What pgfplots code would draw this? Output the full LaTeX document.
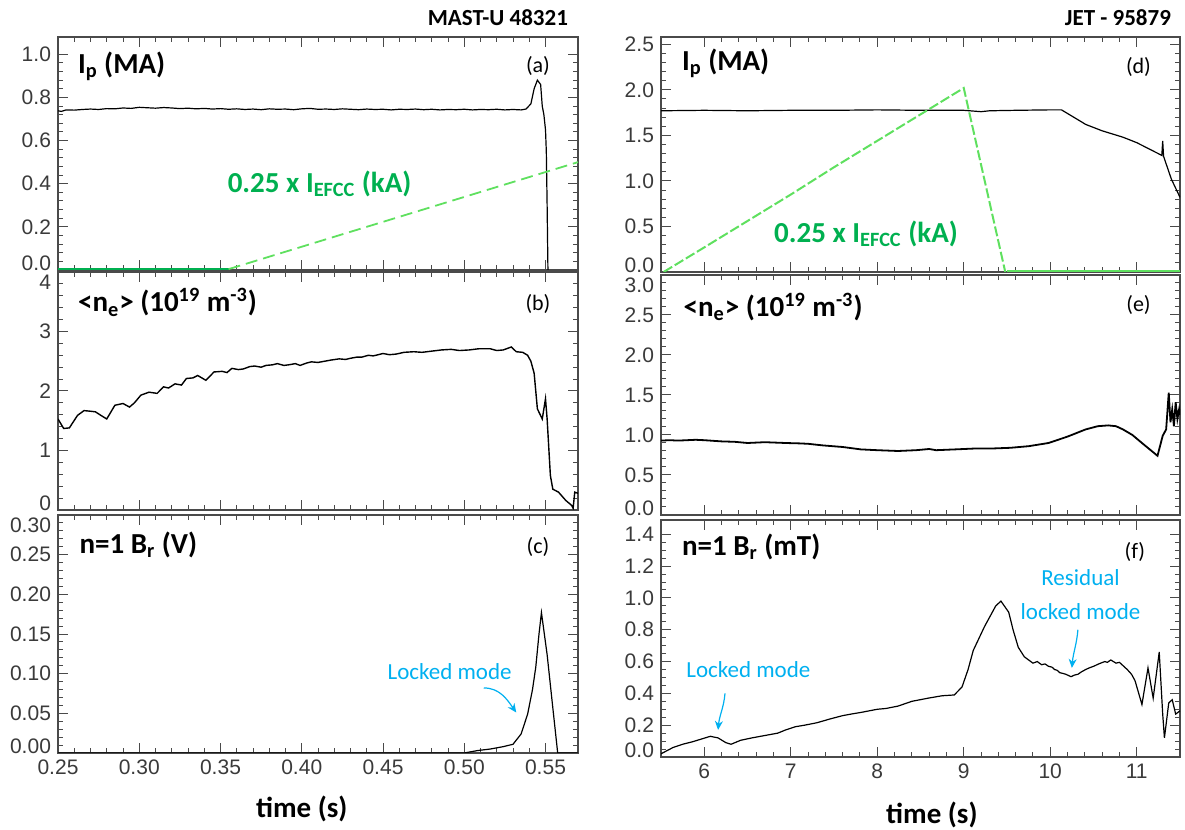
\documentclass[border=0pt]{standalone}
\usepackage{pgfplots}
\pgfplotsset{compat=1.18}
\usepackage{fontspec}
\setmainfont{Carlito}
\newfontfamily\tickfont{Liberation Sans}
\usetikzlibrary{arrows.meta}
\definecolor{axgray}{HTML}{4A4A4A}
\definecolor{tickgray}{HTML}{3A3A3A}
\definecolor{efcc}{HTML}{00B050}
\definecolor{efccline}{HTML}{5FE05F}
\definecolor{lmcyan}{HTML}{00B0F0}
% end labels sit a little inside the box, as in the original
\newcommand{\lo}[1]{\raisebox{3.5pt}[\height][\depth]{#1}}
\newcommand{\hi}[1]{\raisebox{-5pt}[\height][\depth]{#1}}

\pgfplotsset{
  panel/.style={
    scale only axis, anchor=south west, clip mode=individual,
    tick align=inside, xtick pos=both, ytick pos=both,
    axis line style={axgray, line width=0.6pt},
    tick style={axgray, line width=0.5pt},
    major tick length=5pt, minor tick length=2.5pt,
    ticklabel style={font=\tickfont\fontsize{10.5}{12}\selectfont, text=tickgray},
    /pgf/number format/assume math mode=true,
    every axis plot/.append style={line width=0.6pt},
  },
  lcol/.style={panel, at={(29pt,#1)}, width=260pt,
    xmin=0.25, xmax=0.57, xtick={0.25,0.30,0.35,0.40,0.45,0.50,0.55}, minor x tick num=4,
    xticklabel style={/pgf/number format/fixed, /pgf/number format/fixed zerofill, /pgf/number format/precision=2}},
  rcol/.style={panel, at={(330.5pt,#1)}, width=259.5pt,
    xmin=5.5, xmax=11.5, xtick={6,7,8,9,10,11}, minor x tick num=4},
}
\tikzset{
  ptitle/.style={anchor=west, font=\bfseries\fontsize{14.5}{16}\selectfont},
  plab/.style={font=\fontsize{11}{13}\selectfont},
  ann/.style={font=\fontsize{11.5}{13}\selectfont, text=lmcyan, align=center},
  annarrow/.style={lmcyan, line width=0.6pt, -{Stealth[length=4.5pt,width=4pt]}},
  xlab/.style={font=\bfseries\fontsize{14.5}{16}\selectfont},
}

\begin{document}
\begin{tikzpicture}
\useasboundingbox (0,0) rectangle (592.5pt,415pt);

\node[anchor=base east, font=\bfseries\fontsize{11.5}{13}\selectfont] at (287.5pt,402pt) {MAST-U 48321};
\node[anchor=base east, font=\bfseries\fontsize{11.5}{13}\selectfont] at (589pt,402pt) {JET - 95879};

% (a) MAST-U plasma current
\begin{axis}[lcol=280pt, height=116.5pt, ymin=0, ymax=1.08,
  ytick={0,0.2,0.4,0.6,0.8,1.0}, yticklabels={\lo{0.0},0.2,0.4,0.6,0.8,1.0},
  minor y tick num=4, xticklabels={}]
\addplot[black] coordinates {(0.250,0.738)(0.252,0.735)(0.255,0.742)(0.260,0.741)(0.265,0.744)(0.270,0.746)(0.275,0.744)(0.280,0.748)(0.285,0.747)(0.290,0.751)(0.295,0.749)(0.300,0.754)(0.305,0.752)(0.310,0.750)(0.315,0.753)(0.320,0.751)(0.325,0.748)(0.330,0.750)(0.335,0.747)(0.340,0.749)(0.345,0.746)(0.350,0.748)(0.355,0.745)(0.360,0.747)(0.365,0.744)(0.370,0.746)(0.375,0.743)(0.380,0.747)(0.385,0.745)(0.390,0.746)(0.395,0.743)(0.400,0.747)(0.405,0.749)(0.410,0.745)(0.415,0.746)(0.420,0.744)(0.425,0.747)(0.430,0.745)(0.435,0.743)(0.440,0.746)(0.445,0.744)(0.450,0.745)(0.455,0.742)(0.460,0.745)(0.465,0.744)(0.470,0.746)(0.475,0.743)(0.480,0.745)(0.485,0.742)(0.490,0.744)(0.495,0.743)(0.500,0.745)(0.505,0.742)(0.510,0.744)(0.515,0.743)(0.520,0.745)(0.525,0.742)(0.530,0.744)(0.535,0.742)(0.538,0.746)(0.541,0.77)(0.543,0.84)(0.545,0.88)(0.547,0.86)(0.548,0.76)(0.549,0.72)(0.550,0.65)(0.5505,0.55)(0.551,0.30)(0.5515,0.0)};
\addplot[efcc, line width=1pt] coordinates {(0.25,0.004)(0.355,0.004)};
\addplot[efccline, line width=0.9pt, dash pattern=on 6pt off 3pt] coordinates {(0.355,0.004)(0.57,0.50)};
\node[ptitle] at (rel axis cs:0.025,0.875) {I\textsubscript{p} (MA)};
\node[plab] at (rel axis cs:0.923,0.875) {(a)};
\node[font=\bfseries\fontsize{14.5}{16}\selectfont, text=efcc] at (axis cs:0.411,0.40) {0.25 x I\textsubscript{EFCC} (kA)};
\end{axis}

% (b) MAST-U density
\begin{axis}[lcol=160pt, height=119pt, ymin=0, ymax=4,
  ytick={0,1,2,3,4}, yticklabels={\lo{0},1,2,3,\hi{4}},
  minor y tick num=4, xticklabels={}]
\addplot[black, line width=0.7pt] coordinates {(0.250,1.53)(0.2535,1.37)(0.257,1.38)(0.262,1.59)(0.266,1.67)(0.270,1.66)(0.273,1.65)(0.277,1.58)(0.280,1.53)(0.285,1.76)(0.290,1.79)(0.294,1.73)(0.297,1.80)(0.301,1.93)(0.306,1.98)(0.311,1.96)(0.315,2.07)(0.318,2.05)(0.322,2.12)(0.326,2.10)(0.329,2.21)(0.333,2.22)(0.336,2.26)(0.341,2.18)(0.346,2.32)(0.351,2.33)(0.354,2.31)(0.357,2.38)(0.361,2.36)(0.364,2.37)(0.368,2.41)(0.371,2.42)(0.375,2.40)(0.378,2.43)(0.382,2.44)(0.385,2.46)(0.389,2.43)(0.392,2.44)(0.396,2.46)(0.399,2.43)(0.403,2.47)(0.406,2.49)(0.410,2.48)(0.414,2.50)(0.418,2.52)(0.423,2.54)(0.427,2.53)(0.430,2.55)(0.434,2.57)(0.437,2.57)(0.441,2.60)(0.444,2.59)(0.447,2.61)(0.450,2.63)(0.454,2.61)(0.458,2.62)(0.463,2.65)(0.469,2.66)(0.474,2.65)(0.480,2.67)(0.486,2.69)(0.492,2.70)(0.497,2.68)(0.503,2.69)(0.509,2.71)(0.516,2.71)(0.520,2.68)(0.524,2.69)(0.529,2.74)(0.532,2.66)(0.536,2.65)(0.539,2.60)(0.541,2.50)(0.543,2.30)(0.545,1.70)(0.548,1.53)(0.550,1.87)(0.551,1.53)(0.553,0.58)(0.5545,0.35)(0.558,0.30)(0.5625,0.16)(0.566,0.08)(0.567,0.03)(0.568,0.30)(0.570,0.28)};
\node[ptitle] at (rel axis cs:0.025,0.873) {<n\textsubscript{e}> (10\textsuperscript{19} m\textsuperscript{-3})};
\node[plab] at (rel axis cs:0.923,0.866) {(b)};
\end{axis}

% (c) MAST-U n=1 Br
\begin{axis}[lcol=38.5pt, height=119pt, ymin=0, ymax=0.30,
  ytick={0,0.05,0.10,0.15,0.20,0.25,0.30}, yticklabels={\lo{0.00},0.05,0.10,0.15,0.20,0.25,\hi{0.30}},
  minor y tick num=4]
\addplot[black] coordinates {(0.25,0)(0.500,0)(0.508,0.003)(0.516,0.005)(0.524,0.008)(0.530,0.011)(0.535,0.024)(0.539,0.049)(0.542,0.080)(0.544,0.108)(0.546,0.150)(0.5475,0.177)(0.551,0.124)(0.5545,0.057)(0.5575,0)(0.57,0)};
\node[ptitle] at (rel axis cs:0.028,0.876) {n=1 B\textsubscript{r} (V)};
\node[plab] at (rel axis cs:0.923,0.866) {(c)};
\node[ann] at (axis cs:0.491,0.103) {Locked mode};
\draw[annarrow] (axis cs:0.512,0.082) to[out=0,in=125] (axis cs:0.532,0.051);
\node[xlab] at (rel axis cs:0.469,0) [yshift=-28pt] {time (s)};
\end{axis}

% (d) JET plasma current
\begin{axis}[rcol=279pt, height=117.5pt, ymin=0, ymax=2.58,
  ytick={0,0.5,1.0,1.5,2.0,2.5}, yticklabels={\lo{0.0},0.5,1.0,1.5,2.0,2.5},
  minor y tick num=4, xticklabels={}]
\addplot[black] coordinates {(5.5,1.77)(6.0,1.775)(6.5,1.77)(7.0,1.775)(7.5,1.775)(8.0,1.78)(8.5,1.775)(9.0,1.775)(9.2,1.76)(9.3,1.77)(9.6,1.775)(10.0,1.78)(10.13,1.78)(10.2,1.74)(10.41,1.62)(10.6,1.55)(10.84,1.48)(11.0,1.42)(11.29,1.28)(11.30,1.44)(11.31,1.27)(11.4,1.02)(11.5,0.82)};
\addplot[efccline, line width=1pt, dash pattern=on 5pt off 1.5pt] coordinates {(5.53,0)(6.0,0.27)(6.5,0.56)(7.0,0.85)(7.5,1.15)(8.0,1.44)(8.5,1.73)(9.0,2.02)(9.48,0)};
\addplot[efccline, line width=1.2pt] coordinates {(9.5,0.01)(11.5,0.01)};
\node[ptitle] at (rel axis cs:0.027,0.888) {I\textsubscript{p} (MA)};
\node[plab] at (rel axis cs:0.92,0.874) {(d)};
\node[font=\bfseries\fontsize{14.5}{16}\selectfont, text=efcc] at (axis cs:7.87,0.42) {0.25 x I\textsubscript{EFCC} (kA)};
\end{axis}

% (e) JET density
\begin{axis}[rcol=157.5pt, height=120pt, ymin=0, ymax=3.0,
  ytick={0,0.5,1.0,1.5,2.0,2.5,3.0}, yticklabels={\lo{0.0},0.5,1.0,1.5,2.0,2.5,\hi{3.0}},
  minor y tick num=4, xticklabels={}]
\addplot[black, line width=0.9pt] coordinates {(5.5,0.93)(5.6,0.935)(5.7,0.93)(5.9,0.94)(6.0,0.935)(6.2,0.92)(6.35,0.915)(6.5,0.90)(6.7,0.91)(6.94,0.90)(7.1,0.895)(7.2,0.89)(7.37,0.87)(7.6,0.85)(7.81,0.82)(8.0,0.81)(8.24,0.80)(8.45,0.81)(8.6,0.825)(8.68,0.81)(8.9,0.82)(9.11,0.83)(9.3,0.83)(9.54,0.84)(9.75,0.86)(9.98,0.90)(10.2,0.98)(10.41,1.07)(10.55,1.11)(10.67,1.12)(10.76,1.11)(10.84,1.07)(10.95,1.00)(11.06,0.90)(11.15,0.82)(11.24,0.74)(11.30,0.99)(11.34,1.07)(11.37,1.53)(11.39,1.16)(11.41,1.32)(11.43,1.11)(11.45,1.41)(11.47,1.20)(11.49,1.32)(11.5,1.25)};
\node[ptitle] at (rel axis cs:0.03,0.867) {<n\textsubscript{e}> (10\textsuperscript{19} m\textsuperscript{-3})};
\node[plab] at (rel axis cs:0.92,0.874) {(e)};
\end{axis}

% (f) JET n=1 Br
\begin{axis}[rcol=36.5pt, height=118.5pt, ymin=0, ymax=1.49,
  ytick={0,0.2,0.4,0.6,0.8,1.0,1.2,1.4}, yticklabels={\lo{0.0},0.2,0.4,0.6,0.8,1.0,1.2,1.4},
  minor y tick num=3]
\addplot[black] coordinates {(5.5,0.02)(5.64,0.06)(5.75,0.08)(5.86,0.095)(5.95,0.11)(6.07,0.13)(6.16,0.12)(6.25,0.09)(6.31,0.08)(6.42,0.105)(6.55,0.12)(6.72,0.137)(6.85,0.15)(6.94,0.17)(7.05,0.19)(7.16,0.20)(7.3,0.215)(7.46,0.24)(7.6,0.26)(7.7,0.27)(7.81,0.28)(8.0,0.30)(8.1,0.305)(8.24,0.32)(8.4,0.35)(8.59,0.37)(8.75,0.385)(8.89,0.39)(8.98,0.44)(9.05,0.55)(9.11,0.67)(9.24,0.82)(9.37,0.95)(9.43,0.98)(9.52,0.91)(9.57,0.80)(9.63,0.69)(9.70,0.63)(9.80,0.59)(9.85,0.60)(9.90,0.58)(9.94,0.585)(9.98,0.57)(10.02,0.565)(10.05,0.55)(10.08,0.545)(10.11,0.53)(10.15,0.525)(10.18,0.52)(10.24,0.505)(10.28,0.515)(10.32,0.52)(10.36,0.535)(10.41,0.55)(10.45,0.56)(10.5,0.57)(10.56,0.585)(10.63,0.60)(10.66,0.595)(10.70,0.61)(10.76,0.59)(10.80,0.595)(10.83,0.58)(10.89,0.55)(10.94,0.52)(10.98,0.48)(11.06,0.33)(11.13,0.56)(11.19,0.37)(11.26,0.66)(11.30,0.27)(11.32,0.12)(11.37,0.34)(11.41,0.36)(11.45,0.27)(11.5,0.29)};
\node[ptitle] at (rel axis cs:0.027,0.888) {n=1 B\textsubscript{r} (mT)};
\node[plab] at (rel axis cs:0.913,0.867) {(f)};
\node[ann] at (axis cs:6.51,0.547) {Locked mode};
\draw[annarrow] (axis cs:6.24,0.40) to[out=-95,in=85] (axis cs:6.16,0.17);
\node[ann, font=\fontsize{11.5}{17}\selectfont] at (axis cs:10.35,1.02) {Residual\\locked mode};
\draw[annarrow] (axis cs:10.32,0.80) to[out=-95,in=85] (axis cs:10.25,0.56);
\node[xlab] at (rel axis cs:0.522,0) [yshift=-29pt] {time (s)};
\end{axis}
\end{tikzpicture}
\end{document}
